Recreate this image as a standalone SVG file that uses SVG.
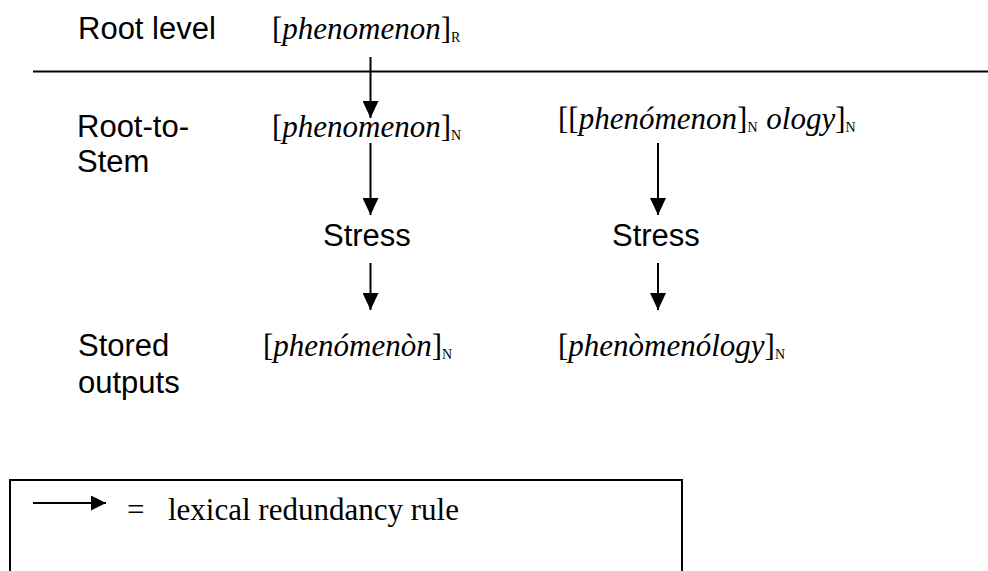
<svg xmlns="http://www.w3.org/2000/svg" width="988" height="571" viewBox="0 0 988 571">
  <style>
    .sans { font-family: "Liberation Sans", Arial, sans-serif; font-size: 31px; fill: #000; }
    .serif { font-family: "Liberation Serif", "Times New Roman", serif; font-size: 31px; fill: #000; }
    .it { font-style: italic; }
    .sub { font-size: 14px; }
    .rule { stroke: #000; stroke-width: 2; fill: none; }
    .conn { stroke: #000; stroke-width: 2; fill: none; marker-end: url(#head); }
  </style>
  <defs>
    <marker id="head" viewBox="0 0 17 16" refX="17" refY="8" markerWidth="17" markerHeight="16" markerUnits="userSpaceOnUse" orient="auto">
      <path d="M0,0 L17,8 L0,16 Z" fill="#000"/>
    </marker>
    <marker id="head-small" viewBox="0 0 15 15" refX="15" refY="7.5" markerWidth="15" markerHeight="15" markerUnits="userSpaceOnUse" orient="auto">
      <path d="M0,0 L15,7.5 L0,15 Z" fill="#000"/>
    </marker>
  </defs>
  <rect width="988" height="571" fill="#fff"/>

  <!-- level labels -->
  <g id="level-root"><text class="sans" x="78" y="39">Root level</text></g>
  <g id="level-stem"><text class="sans" x="77" y="137">Root-to-</text><text class="sans" x="77" y="172">Stem</text></g>
  <g id="level-stored"><text class="sans" x="78" y="356">Stored</text><text class="sans" x="78" y="393">outputs</text></g>

  <!-- level divider -->
  <line class="rule" x1="33" y1="71.5" x2="988" y2="71.5"/>

  <!-- forms -->
  <g id="root-form"><text class="serif" x="272" y="39">[<tspan class="it">phenomenon</tspan>]<tspan class="sub" dy="3">R</tspan></text></g>
  <g id="stem-form"><text class="serif" x="272" y="137">[<tspan class="it">phenomenon</tspan>]<tspan class="sub" dy="3">N</tspan></text></g>
  <g id="derived-form"><text class="serif" x="558" y="129">[[<tspan class="it">phenómenon</tspan>]<tspan class="sub" dy="3">N</tspan><tspan dy="-3"> </tspan><tspan class="it" dx="1">ology</tspan>]<tspan class="sub" dy="3">N</tspan></text></g>
  <g id="stress-left"><text class="sans" x="323" y="246">Stress</text></g>
  <g id="stress-right"><text class="sans" x="612" y="246">Stress</text></g>
  <g id="stored-stem"><text class="serif" x="263" y="356">[<tspan class="it">phenómenòn</tspan>]<tspan class="sub" dy="3">N</tspan></text></g>
  <g id="stored-derived"><text class="serif" x="558" y="356">[<tspan class="it">phenòmenólogy</tspan>]<tspan class="sub" dy="3">N</tspan></text></g>

  <!-- connectors -->
  <g id="connectors">
    <line class="conn" x1="370.5" y1="57" x2="370.5" y2="118"/>
    <line class="conn" x1="370.5" y1="143" x2="370.5" y2="215"/>
    <line class="conn" x1="658" y1="143" x2="658" y2="215"/>
    <line class="conn" x1="370.5" y1="263" x2="370.5" y2="310"/>
    <line class="conn" x1="658" y1="263" x2="658" y2="310"/>
  </g>

  <!-- legend -->
  <g id="legend">
    <rect class="rule" x="10" y="480" width="672" height="140"/>
    <line x1="33" y1="503" x2="106" y2="503" stroke="#000" stroke-width="2" marker-end="url(#head-small)"/>
    <text class="serif" x="127" y="520">=</text>
    <text class="serif" x="168" y="520">lexical redundancy rule</text>
  </g>
</svg>
